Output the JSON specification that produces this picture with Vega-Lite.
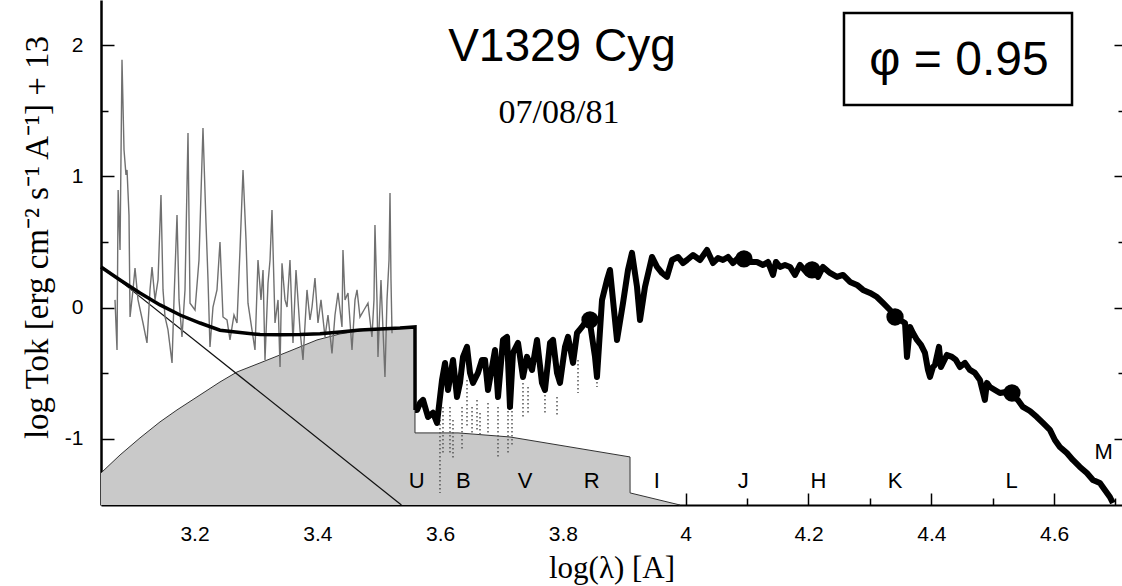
{
"$schema": "https://vega.github.io/schema/vega-lite/v6.json",
"width": 1021, "height": 505,
"autosize": {"type": "none"},
"padding": {"left": 101, "top": 0, "right": 0, "bottom": 81},
"background": "white",
"config": {"view": {"stroke": null}, "axis": {"grid": false}},
"datasets": {
"neb": [{"x":3.0477,"y":-1.259},{"x":3.0787,"y":-1.122},{"x":3.1112,"y":-0.992},{"x":3.1438,"y":-0.87},{"x":3.1715,"y":-0.779},{"x":3.209,"y":-0.665},{"x":3.2415,"y":-0.566},{"x":3.2692,"y":-0.49},{"x":3.3067,"y":-0.421},{"x":3.3555,"y":-0.33},{"x":3.3995,"y":-0.246},{"x":3.437,"y":-0.2},{"x":3.4695,"y":-0.177},{"x":3.507,"y":-0.155},{"x":3.559,"y":-0.147},{"x":3.5591,"y":-0.954},{"x":3.6292,"y":-0.954},{"x":3.7138,"y":-0.985},{"x":3.8116,"y":-1.061},{"x":3.9093,"y":-1.137},{"x":3.9094,"y":-1.411},{"x":3.9907,"y":-1.503}],
"star": [{"x":3.0477,"y":0.32},{"x":3.537,"y":-1.503}],
"model": [{"x":3.0477,"y":0.31},{"x":3.0787,"y":0.211},{"x":3.1112,"y":0.112},{"x":3.1438,"y":0.021},{"x":3.1764,"y":-0.056},{"x":3.209,"y":-0.117},{"x":3.2415,"y":-0.172},{"x":3.2741,"y":-0.19},{"x":3.3067,"y":-0.205},{"x":3.3393,"y":-0.207},{"x":3.3718,"y":-0.205},{"x":3.4044,"y":-0.198},{"x":3.437,"y":-0.185},{"x":3.4695,"y":-0.17},{"x":3.5021,"y":-0.162},{"x":3.5347,"y":-0.155},{"x":3.5591,"y":-0.147},{"x":3.5592,"y":-0.779}],
"uv": [{"x":3.0705,"y":0.059},{"x":3.0738,"y":-0.322},{"x":3.0756,"y":0.896},{"x":3.0787,"y":0.439},{"x":3.0819,"y":1.887},{"x":3.0852,"y":1.201},{"x":3.0884,"y":1.011},{"x":3.0901,"y":1.049},{"x":3.0933,"y":0.706},{"x":3.095,"y":-0.071},{"x":3.0998,"y":0.135},{"x":3.1031,"y":0.301},{"x":3.108,"y":0.059},{"x":3.1161,"y":-0.117},{"x":3.1226,"y":-0.269},{"x":3.1275,"y":0.135},{"x":3.1308,"y":0.31},{"x":3.1357,"y":0.059},{"x":3.1406,"y":0.211},{"x":3.1454,"y":0.858},{"x":3.1487,"y":0.135},{"x":3.152,"y":-0.071},{"x":3.1568,"y":-0.17},{"x":3.1634,"y":-0.421},{"x":3.1666,"y":0.059},{"x":3.1715,"y":0.706},{"x":3.1748,"y":0.059},{"x":3.1796,"y":-0.223},{"x":3.1845,"y":0.135},{"x":3.1894,"y":1.33},{"x":3.1927,"y":0.034},{"x":3.2008,"y":-0.018},{"x":3.2073,"y":0.363},{"x":3.2138,"y":1.368},{"x":3.2187,"y":0.645},{"x":3.222,"y":0.211},{"x":3.2252,"y":-0.299},{"x":3.2301,"y":0.005},{"x":3.2366,"y":0.135},{"x":3.2415,"y":0.5},{"x":3.2464,"y":-0.071},{"x":3.2529,"y":-0.094},{"x":3.2578,"y":-0.246},{"x":3.2643,"y":-0.056},{"x":3.2692,"y":-0.117},{"x":3.2741,"y":0.44},{"x":3.279,"y":1.049},{"x":3.2839,"y":0.516},{"x":3.2871,"y":0.034},{"x":3.2936,"y":-0.17},{"x":3.2985,"y":-0.322},{"x":3.3034,"y":0.363},{"x":3.3083,"y":0.059},{"x":3.3116,"y":0.287},{"x":3.3148,"y":-0.398},{"x":3.3197,"y":0.186},{"x":3.323,"y":0.363},{"x":3.3262,"y":0.744},{"x":3.3311,"y":-0.117},{"x":3.336,"y":0.059},{"x":3.3393,"y":-0.451},{"x":3.3425,"y":0.338},{"x":3.3474,"y":0.059},{"x":3.3507,"y":0.005},{"x":3.3555,"y":0.363},{"x":3.3604,"y":-0.269},{"x":3.3653,"y":0.287},{"x":3.3718,"y":-0.17},{"x":3.3767,"y":-0.398},{"x":3.3832,"y":0.135},{"x":3.3881,"y":-0.094},{"x":3.3914,"y":0.005},{"x":3.3962,"y":0.226},{"x":3.4011,"y":-0.117},{"x":3.406,"y":0.059},{"x":3.4125,"y":-0.223},{"x":3.4174,"y":-0.056},{"x":3.4239,"y":-0.348},{"x":3.4288,"y":-0.056},{"x":3.4337,"y":0.112},{"x":3.4402,"y":-0.147},{"x":3.4418,"y":0.439},{"x":3.4451,"y":0.059},{"x":3.45,"y":0.112},{"x":3.4565,"y":-0.322},{"x":3.4614,"y":0.059},{"x":3.4647,"y":0.135},{"x":3.4695,"y":-0.071},{"x":3.476,"y":-0.018},{"x":3.4825,"y":0.034},{"x":3.489,"y":-0.223},{"x":3.4923,"y":0.059},{"x":3.4939,"y":0.63},{"x":3.4972,"y":0.059},{"x":3.4988,"y":-0.376},{"x":3.5037,"y":0.211},{"x":3.507,"y":-0.17},{"x":3.5102,"y":-0.528},{"x":3.5135,"y":0.059},{"x":3.5168,"y":0.363},{"x":3.5184,"y":0.873},{"x":3.52,"y":0.211},{"x":3.5217,"y":-0.195}],
"obs": [{"x":3.5593,"y":-0.779},{"x":3.5624,"y":-0.779},{"x":3.5673,"y":-0.726},{"x":3.5722,"y":-0.703},{"x":3.5803,"y":-0.833},{"x":3.5884,"y":-0.8},{"x":3.595,"y":-0.878},{"x":3.6031,"y":-0.551},{"x":3.608,"y":-0.421},{"x":3.6129,"y":-0.627},{"x":3.621,"y":-0.398},{"x":3.6275,"y":-0.68},{"x":3.6324,"y":-0.573},{"x":3.6373,"y":-0.375},{"x":3.6438,"y":-0.299},{"x":3.6487,"y":-0.497},{"x":3.6536,"y":-0.573},{"x":3.6617,"y":-0.497},{"x":3.6682,"y":-0.398},{"x":3.6731,"y":-0.398},{"x":3.678,"y":-0.627},{"x":3.6894,"y":-0.322},{"x":3.6943,"y":-0.68},{"x":3.7024,"y":-0.246},{"x":3.709,"y":-0.223},{"x":3.7138,"y":-0.756},{"x":3.7187,"y":-0.345},{"x":3.7269,"y":-0.269},{"x":3.735,"y":-0.528},{"x":3.7415,"y":-0.375},{"x":3.7497,"y":-0.474},{"x":3.7578,"y":-0.246},{"x":3.7659,"y":-0.573},{"x":3.7708,"y":-0.627},{"x":3.779,"y":-0.269},{"x":3.7839,"y":-0.246},{"x":3.7904,"y":-0.497},{"x":3.7953,"y":-0.573},{"x":3.8034,"y":-0.299},{"x":3.8083,"y":-0.223},{"x":3.8165,"y":-0.421},{"x":3.823,"y":-0.193},{"x":3.8311,"y":-0.147},{"x":3.8392,"y":-0.094},{"x":3.8441,"y":-0.117},{"x":3.8523,"y":-0.375},{"x":3.8555,"y":-0.528},{"x":3.8637,"y":0.059},{"x":3.8718,"y":0.211},{"x":3.8767,"y":0.287},{"x":3.8881,"y":-0.246},{"x":3.8979,"y":0.036},{"x":3.906,"y":0.287},{"x":3.9125,"y":0.417},{"x":3.9207,"y":0.158},{"x":3.9256,"y":-0.094},{"x":3.9337,"y":0.158},{"x":3.9451,"y":0.386},{"x":3.9533,"y":0.31},{"x":3.9614,"y":0.264},{"x":3.9695,"y":0.234},{"x":3.9777,"y":0.363},{"x":3.9875,"y":0.386},{"x":3.9956,"y":0.34},{"x":4.0021,"y":0.363},{"x":4.0119,"y":0.401},{"x":4.0233,"y":0.363},{"x":4.0347,"y":0.439},{"x":4.0445,"y":0.34},{"x":4.0526,"y":0.378},{"x":4.0607,"y":0.363},{"x":4.0689,"y":0.386},{"x":4.077,"y":0.34},{"x":4.0852,"y":0.378},{"x":4.0949,"y":0.371},{"x":4.1047,"y":0.348},{"x":4.1161,"y":0.348},{"x":4.1259,"y":0.325},{"x":4.134,"y":0.348},{"x":4.1422,"y":0.249},{"x":4.147,"y":0.348},{"x":4.1536,"y":0.31},{"x":4.1617,"y":0.325},{"x":4.1699,"y":0.31},{"x":4.178,"y":0.249},{"x":4.1862,"y":0.325},{"x":4.1976,"y":0.264},{"x":4.2073,"y":0.325},{"x":4.2155,"y":0.234},{"x":4.2236,"y":0.31},{"x":4.235,"y":0.264},{"x":4.2464,"y":0.234},{"x":4.2562,"y":0.249},{"x":4.2676,"y":0.196},{"x":4.279,"y":0.173},{"x":4.2888,"y":0.135},{"x":4.3002,"y":0.112},{"x":4.3116,"y":0.081},{"x":4.3213,"y":0.036},{"x":4.3327,"y":-0.018},{"x":4.3409,"y":-0.071},{"x":4.349,"y":-0.094},{"x":4.3572,"y":-0.117},{"x":4.3604,"y":-0.375},{"x":4.3653,"y":-0.147},{"x":4.3702,"y":-0.193},{"x":4.3767,"y":-0.246},{"x":4.3832,"y":-0.284},{"x":4.3897,"y":-0.345},{"x":4.3946,"y":-0.474},{"x":4.3979,"y":-0.528},{"x":4.4028,"y":-0.452},{"x":4.406,"y":-0.436},{"x":4.4125,"y":-0.299},{"x":4.4158,"y":-0.452},{"x":4.419,"y":-0.421},{"x":4.4255,"y":-0.36},{"x":4.4336,"y":-0.375},{"x":4.4401,"y":-0.398},{"x":4.4467,"y":-0.452},{"x":4.4548,"y":-0.421},{"x":4.4629,"y":-0.474},{"x":4.4711,"y":-0.497},{"x":4.4792,"y":-0.551},{"x":4.4873,"y":-0.703},{"x":4.4906,"y":-0.573},{"x":4.4955,"y":-0.604},{"x":4.5036,"y":-0.627},{"x":4.5118,"y":-0.65},{"x":4.5215,"y":-0.642},{"x":4.5313,"y":-0.665},{"x":4.541,"y":-0.703},{"x":4.5492,"y":-0.756},{"x":4.5606,"y":-0.787},{"x":4.572,"y":-0.833},{"x":4.5818,"y":-0.878},{"x":4.5932,"y":-0.931},{"x":4.6013,"y":-1.008},{"x":4.6094,"y":-1.061},{"x":4.6208,"y":-1.107},{"x":4.6306,"y":-1.16},{"x":4.642,"y":-1.213},{"x":4.6534,"y":-1.259},{"x":4.6632,"y":-1.312},{"x":4.6746,"y":-1.335},{"x":4.6827,"y":-1.389},{"x":4.6909,"y":-1.442},{"x":4.6958,"y":-1.488}],
"dots": [{"x":3.5998,"top":-0.855,"bot":-1.411},{"x":3.6047,"top":-0.756,"bot":-1.107},{"x":3.6161,"top":-0.756,"bot":-1.107},{"x":3.621,"top":-0.855,"bot":-1.16},{"x":3.6357,"top":-0.756,"bot":-1.084},{"x":3.6438,"top":-0.551,"bot":-0.909},{"x":3.652,"top":-0.756,"bot":-0.954},{"x":3.6601,"top":-0.703,"bot":-0.931},{"x":3.665,"top":-0.802,"bot":-0.985},{"x":3.678,"top":-0.726,"bot":-0.954},{"x":3.6943,"top":-0.756,"bot":-1.137},{"x":3.7106,"top":-0.421,"bot":-1.107},{"x":3.7171,"top":-0.756,"bot":-1.061},{"x":3.735,"top":-0.573,"bot":-0.833},{"x":3.7432,"top":-0.604,"bot":-0.802},{"x":3.7708,"top":-0.604,"bot":-0.802},{"x":3.7904,"top":-0.68,"bot":-0.833},{"x":3.8246,"top":-0.398,"bot":-0.65},{"x":3.8555,"top":-0.474,"bot":-0.604}],
"phot": [{"x":3.8441,"y":-0.094},{"x":4.0949,"y":0.371},{"x":4.2057,"y":0.287},{"x":4.3409,"y":-0.071},{"x":4.5313,"y":-0.65}],
"bands": [{"x":3.5619,"y":-1.322,"label":"U"},{"x":3.6378,"y":-1.322,"label":"B"},{"x":3.7383,"y":-1.322,"label":"V"},{"x":3.8469,"y":-1.322,"label":"R"},{"x":3.9528,"y":-1.322,"label":"I"},{"x":4.0938,"y":-1.322,"label":"J"},{"x":4.216,"y":-1.322,"label":"H"},{"x":4.3409,"y":-1.322,"label":"K"},{"x":4.5309,"y":-1.322,"label":"L"},{"x":4.6807,"y":-1.103,"label":"M"}]
},
"encoding": {
  "x": {"field": "x", "type": "quantitative", "scale": {"domain": [3.0477, 4.7106], "nice": false, "zero": false}, "axis": null},
  "y": {"field": "y", "type": "quantitative", "scale": {"domain": [-1.503, 2.343], "nice": false, "zero": false}, "axis": null}
},
"resolve": {"axis": {"x": "independent", "y": "independent"}},
"layer": [
  {"data": {"name": "neb"}, "mark": {"type": "area", "color": "#c9c9c9"},
   "encoding": {
     "x": {"field": "x", "type": "quantitative", "scale": {"domain": [3.0477, 4.7106], "nice": false, "zero": false},
       "axis": {"orient": "bottom", "values": [3.2,3.4,3.6,3.8,4.0,4.2,4.4,4.6],
         "labelExpr": "round(datum.value*10)==40 ? '4' : format(datum.value,'.1f')",
         "tickSize": -12, "tickColor": "black", "tickWidth": 1.5, "domainColor": "black", "domainWidth": 1.8,
         "labelFont": "Liberation Sans", "labelFontSize": 21, "labelColor": "black", "labelPadding": 30,
         "labelFlush": false, "labelOverlap": false,
         "title": "log(λ)   [A]", "titleFont": "Liberation Serif", "titleFontSize": 31, "titleFontWeight": "normal", "titleColor": "black", "titlePadding": 9}},
     "y": {"field": "y", "type": "quantitative", "scale": {"domain": [-1.503, 2.343], "nice": false, "zero": false},
       "axis": {"orient": "left", "values": [-1,0,1,2],
         "labelExpr": "datum.value==-1 ? '-1' : format(datum.value,'d')",
         "tickSize": -13, "tickColor": "black", "tickWidth": 1.5, "domainColor": "black", "domainWidth": 2.5,
         "labelFont": "Liberation Sans", "labelFontSize": 21, "labelColor": "black", "labelPadding": 31,
         "labelOverlap": false, "labelFlush": false,
         "title": "log Tok [erg cm⁻²  s⁻¹  A⁻¹] + 13", "titleFont": "Liberation Serif", "titleFontSize": 33, "titleFontWeight": "normal", "titleColor": "black", "titlePadding": 10, "titleY": 237}},
     "y2": {"datum": -1.503}}},
  {"data": {"name": "neb"}, "mark": {"type": "line", "color": "#333", "strokeWidth": 1},
   "encoding": {
     "x": {"field": "x", "type": "quantitative", "scale": {"domain": [3.0477, 4.7106], "nice": false, "zero": false},
       "axis": {"orient": "bottom", "values": [3.1,3.3,3.5,3.7,3.9,4.1,4.3,4.5,4.7], "labels": false, "domain": false, "title": null,
         "tickSize": -7, "tickColor": "black", "tickWidth": 1.5}},
     "y": {"field": "y", "type": "quantitative", "scale": {"domain": [-1.503, 2.343], "nice": false, "zero": false},
       "axis": {"orient": "left", "values": [-0.5,0.5,1.5], "labels": false, "domain": false, "title": null,
         "tickSize": -7, "tickColor": "black", "tickWidth": 1.5}}}},
  {"data": {"name": "star"}, "mark": {"type": "line", "color": "#111", "strokeWidth": 1.2}, "encoding": {}},
  {"data": {"name": "uv"}, "mark": {"type": "line", "color": "#707070", "strokeWidth": 1.4}, "encoding": {}},
  {"data": {"name": "dots"}, "mark": {"type": "rule", "color": "#555", "strokeWidth": 1.5, "strokeDash": [1.5, 2.5]},
   "encoding": {"y": {"field": "top", "type": "quantitative", "scale": {"domain": [-1.503, 2.343], "nice": false, "zero": false}, "axis": null},
     "y2": {"field": "bot"}}},
  {"data": {"name": "model"}, "mark": {"type": "line", "color": "black", "strokeWidth": 3.5}, "encoding": {}},
  {"data": {"name": "obs"}, "mark": {"type": "line", "color": "black", "strokeWidth": 6, "strokeJoin": "round"}, "encoding": {}},
  {"data": {"name": "phot"}, "mark": {"type": "point", "filled": true, "color": "black", "opacity": 1, "size": 300},
   "encoding": {"y": {"field": "y", "type": "quantitative", "scale": {"domain": [-1.503, 2.343], "nice": false, "zero": false},
     "axis": {"orient": "right", "values": [-1,0,1,2], "labels": false, "domain": false, "title": null,
       "tickSize": -8, "tickColor": "black", "tickWidth": 1.5}}}},
  {"data": {"name": "bands"}, "mark": {"type": "text", "font": "Liberation Sans", "fontSize": 22, "color": "black", "align": "center", "baseline": "middle"},
   "encoding": {"text": {"field": "label"},
     "y": {"field": "y", "type": "quantitative", "scale": {"domain": [-1.503, 2.343], "nice": false, "zero": false},
     "axis": {"orient": "right", "values": [-0.5,0.5,1.5], "labels": false, "domain": false, "title": null,
       "tickSize": -4, "tickColor": "black", "tickWidth": 1.5}}}},
  {"data": {"values": [{"x": 3.7985, "y": 1.879, "label": "V1329 Cyg"}]},
   "mark": {"type": "text", "font": "Liberation Sans", "fontSize": 46, "color": "black", "align": "center", "baseline": "alphabetic"},
   "encoding": {"text": {"field": "label"}}},
  {"data": {"values": [{"x": 3.7936, "y": 1.407, "label": "07/08/81"}]},
   "mark": {"type": "text", "font": "Liberation Serif", "fontSize": 34, "color": "black", "align": "center", "baseline": "alphabetic"},
   "encoding": {"text": {"field": "label"}}},
  {"data": {"values": [{"x": 4.2578, "x2": 4.6292, "y": 2.2444, "y2": 1.5442}]},
   "mark": {"type": "rect", "filled": false, "stroke": "black", "strokeWidth": 2.5},
   "encoding": {"x2": {"field": "x2"}, "y2": {"field": "y2"}}},
  {"data": {"values": [{"x": 4.4451, "y": 1.772, "label": "φ = 0.95"}]},
   "mark": {"type": "text", "font": "Liberation Sans", "fontSize": 48, "color": "black", "align": "center", "baseline": "alphabetic"},
   "encoding": {"text": {"field": "label"}}}
]
}
